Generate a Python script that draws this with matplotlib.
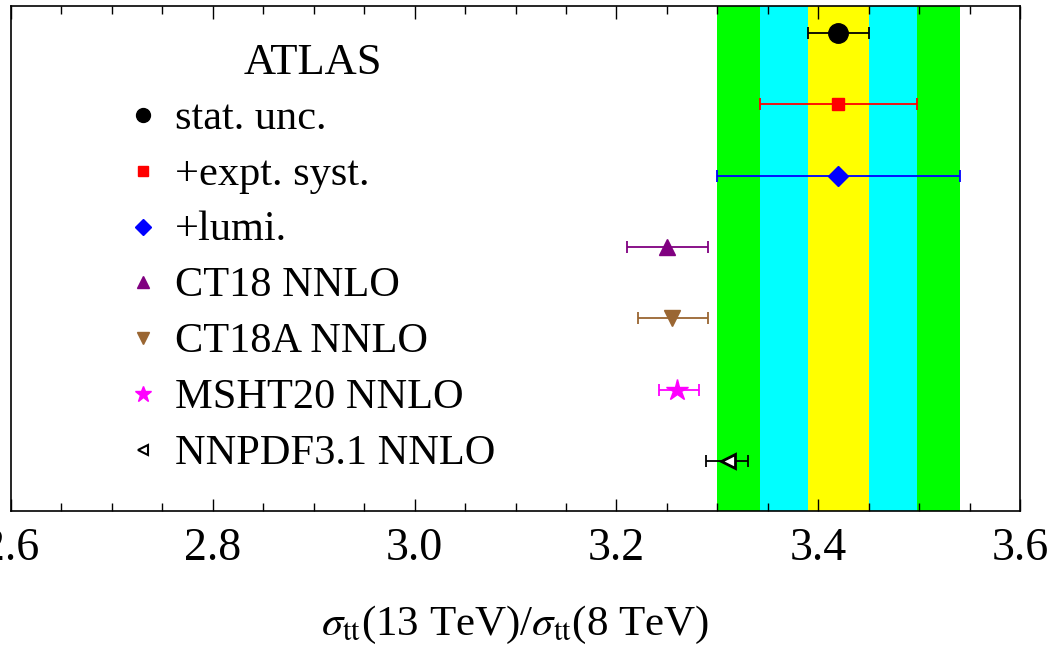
import numpy as np
import matplotlib as mpl
#headless mode
mpl.use('Agg')
import matplotlib.pyplot as plt
from matplotlib.ticker import MultipleLocator

plt.rcParams['font.family'] = ['Liberation Serif', 'DejaVu Serif']
plt.rcParams['mathtext.fontset'] = 'stix'

# ATLAS measurement: central value and cumulative uncertainties
atlas_value = 3.42
atlas_labels = ["stat. unc.", "+expt. syst.", "+lumi."]
atlas_err = [0.03, 0.078, 0.12]

# theory predictions
theory_labels = ["CT18 NNLO", "CT18A NNLO", "MSHT20 NNLO", "NNPDF3.1 NNLO"]
theory_value = [3.25, 3.255, 3.26, 3.311]
theory_err_lo = [0.04, 0.034, 0.018, 0.022]
theory_err_hi = [0.041, 0.036, 0.022, 0.019]

# rows, top to bottom
rows = [7, 6, 5, 4, 3, 2, 1]

band_colors = ['#FFFF00', '#00FFFF', '#00FF00']
atlas_styles = [
    dict(marker='o', color='black', ms=14, mfc='black', mec='black'),
    dict(marker='s', color='#FF0000', ms=9, mfc='#FF0000', mec='#FF0000'),
    dict(marker='D', color='#0000FF', ms=10, mfc='#0000FF', mec='#0000FF'),
]
theory_styles = [
    dict(marker='^', color='#800080', ms=12, mfc='#800080', mec='#800080'),
    dict(marker='v', color='#9A6632', ms=12, mfc='#9A6632', mec='#9A6632'),
    dict(marker='*', color='#FF00FF', ms=16, mfc='#FF00FF', mec='#FF00FF'),
    dict(marker='<', color='black', ms=10, mfc='white', mec='black', mew=2),
]
legend_ms = [10, 7, 8, 9, 9, 12, 7]

fig = plt.figure(figsize=(10.5, 6.47), dpi=100)
ax = fig.add_axes([0.0105, 0.2102, 0.9610, 0.7805])

# uncertainty bands, widest first
for err, col in reversed(list(zip(atlas_err, band_colors))):
    ax.axvspan(atlas_value - err, atlas_value + err, color=col, lw=0, zorder=0)

all_styles = atlas_styles + theory_styles
all_labels = atlas_labels + theory_labels

for i, (err, st) in enumerate(zip(atlas_err, atlas_styles)):
    ax.errorbar([atlas_value], [rows[i]], xerr=[[err], [err]], fmt='none',
                ecolor=st['color'], elinewidth=1.3, capsize=4.5, capthick=1.3, zorder=2)
    ax.plot([atlas_value], [rows[i]], ls='none', zorder=3,
            **{k: v for k, v in st.items() if k != 'color'})

for j, st in enumerate(theory_styles):
    r = rows[3 + j]
    ax.errorbar([theory_value[j]], [r], xerr=[[theory_err_lo[j]], [theory_err_hi[j]]],
                fmt='none', ecolor=st['color'], elinewidth=1.3, capsize=4.5,
                capthick=1.3, zorder=2)
    ax.plot([theory_value[j]], [r], ls='none', zorder=3,
            **{k: v for k, v in st.items() if k != 'color'})

# hand made legend
ax.text(0.299, 0.887, "ATLAS", transform=ax.transAxes, ha='center',
        va='center', fontsize=32)
for i, (lab, st) in enumerate(zip(all_labels, all_styles)):
    yk = 0.784 - i * 0.1105
    kw = {k: v for k, v in st.items() if k not in ('color', 'ms')}
    if 'mew' in kw:
        kw['mew'] = 1.5
    ax.plot([0.1308], [yk], transform=ax.transAxes, ls='none',
            ms=legend_ms[i], clip_on=False, **kw)
    ax.text(0.1625, yk - 0.027, lab, transform=ax.transAxes, ha='left',
            va='baseline', fontsize=30.5)

ax.set_xlim(2.6, 3.6)
ax.set_ylim(0.3, 7.38)
ax.xaxis.set_major_locator(MultipleLocator(0.2))
ax.xaxis.set_minor_locator(MultipleLocator(0.05))
ax.xaxis.set_major_formatter(mpl.ticker.FormatStrFormatter('%.1f'))
ax.tick_params(axis='x', which='both', direction='in', top=True, bottom=True,
               labelsize=33, pad=12, width=1)
ax.tick_params(axis='x', which='major', length=9)
ax.tick_params(axis='x', which='minor', length=6)
ax.set_yticks([])
for sp in ax.spines.values():
    sp.set_linewidth(1.2)

ax.set_xlabel(r'$\sigma_{\rm tt}$(13 TeV)/$\sigma_{\rm tt}$(8 TeV)', fontsize=31,
              labelpad=24)

plt.savefig("out.png", dpi=100)
